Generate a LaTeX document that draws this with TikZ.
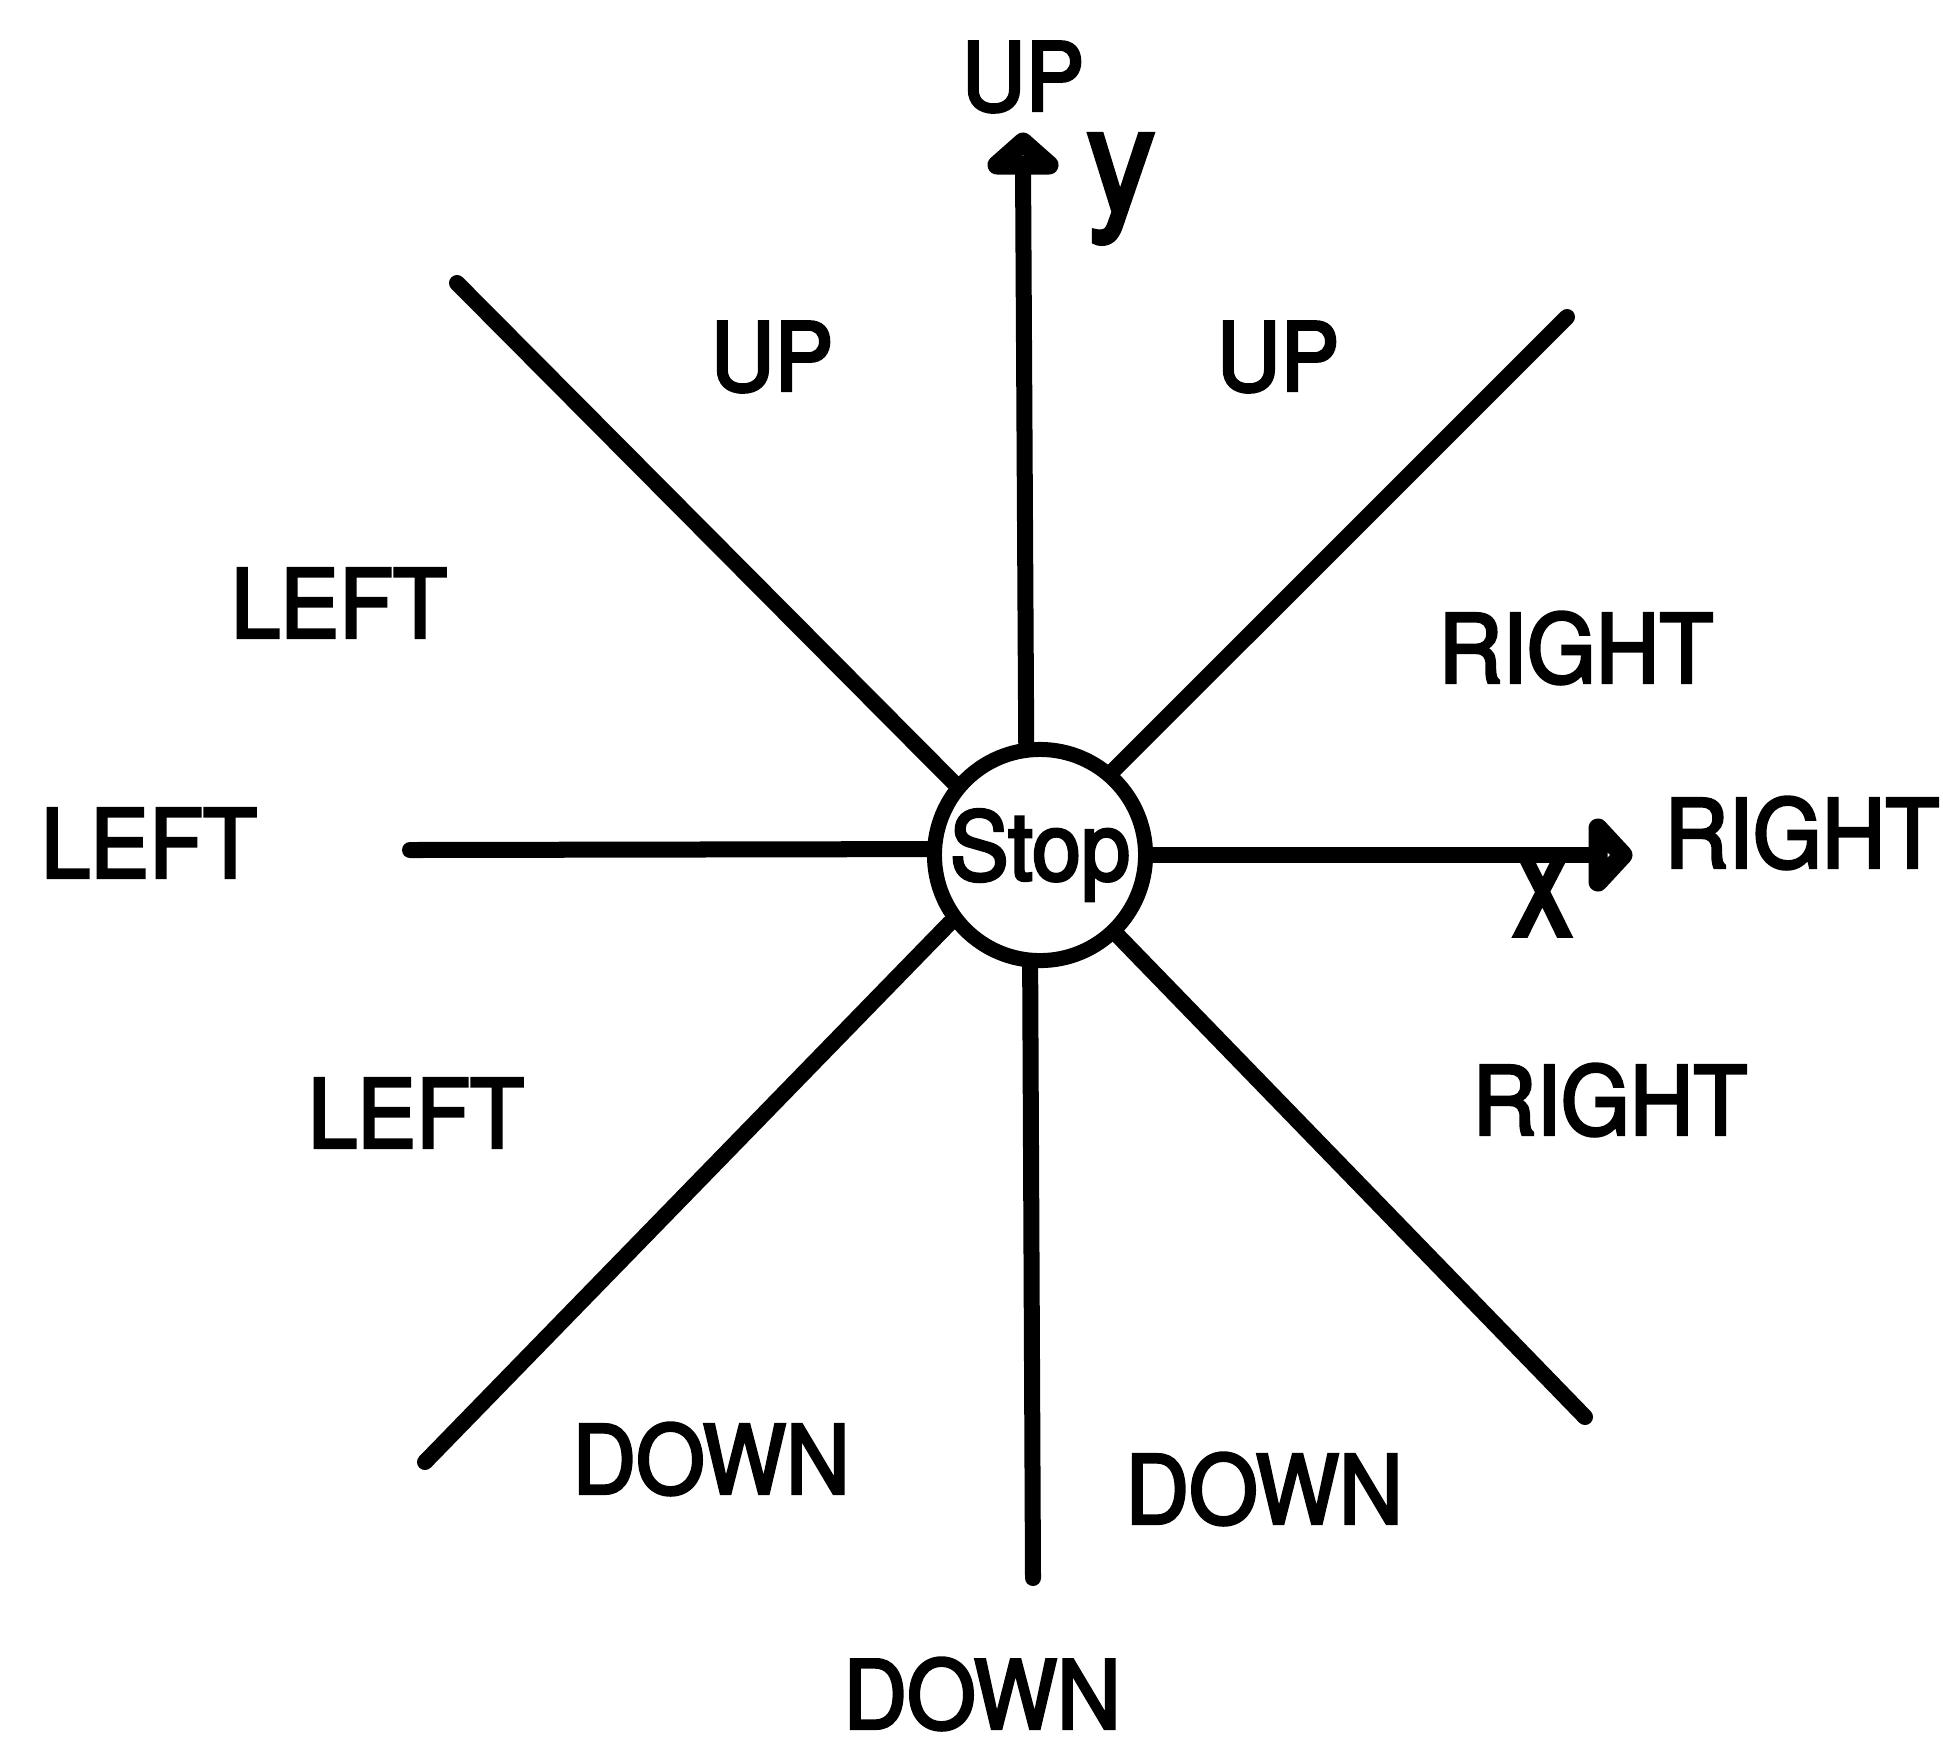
\documentclass[tikz,border=0pt]{standalone}
\usepackage{fontspec}
\setmainfont{TeX Gyre Heros}[FakeStretch=0.93, FakeBold=3]
\begin{document}
\begin{tikzpicture}[x=0.01cm,y=-0.01cm,
  ax/.style={line width=0.16cm, line cap=round},
  head/.style={line width=0.19cm, line join=round},
  lbl/.style={inner sep=0pt, font=\fontsize{27}{32}\selectfont},
  varlbl/.style={inner sep=0pt}]
\useasboundingbox[fill=white] (0,0) rectangle (1943,1745);
% centre
\node[circle, draw, line width=0.15cm, minimum size=2.11cm, inner sep=0pt,
      font=\fontsize{27}{32}\selectfont] (stop) at (1040,855) {Stop};
% end points
\coordinate (upbase) at (1023,165);
\coordinate (rightbase) at (1598,855);
\coordinate (leftend) at (410,850);
\coordinate (downend) at (1033,1578);
\coordinate (ul) at (457,283);
\coordinate (ur) at (1567,317);
\coordinate (ll) at (425,1462);
\coordinate (lr) at (1585,1417);
% axes
\draw[ax] (stop.97) -- (upbase);
\draw[head] (upbase) ++(-26,0) -- ++(26,-23) -- ++(26,23) -- cycle;
\draw[ax] (stop.0) -- (rightbase);
\draw[head] (rightbase) ++(0,-27) -- ++(25,27) -- ++(-25,27) -- cycle;
\draw[ax] (stop.177) -- (leftend);
\draw[ax] (stop.265) -- (downend);
\draw[ax] (stop.140) -- (ul);
\draw[ax] (stop.49) -- (ur);
\draw[ax] (stop.217) -- (ll);
\draw[ax] (stop.314) -- (lr);
% axis letters
\node[varlbl] (ylbl) at (1121,189) {\fontsize{42}{46}\selectfont y};
\node[varlbl] (xlbl) at (1543,893) {\fontsize{46}{50}\selectfont\scalebox{0.8}[1]{x}};
% labels
\node[lbl] (uptop) at (1023,77) {UP};
\node[lbl] (upl) at (772,357) {UP};
\node[lbl] (upr) at (1278,357) {UP};
\node[lbl] (leftu) at (339,603) {LEFT};
\node[lbl] (leftm) at (149,843) {LEFT};
\node[lbl] (leftd) at (416,1113) {LEFT};
\node[lbl] (rightu) at (1576,648) {RIGHT};
\node[lbl] (rightm) at (1802,833) {RIGHT};
\node[lbl] (rightd) at (1610,1100) {RIGHT};
\node[lbl] (downl) at (711,1459) {DOWN};
\node[lbl] (downr) at (1264,1489) {DOWN};
\node[lbl] (downb) at (982,1694) {DOWN};
\end{tikzpicture}
\end{document}
